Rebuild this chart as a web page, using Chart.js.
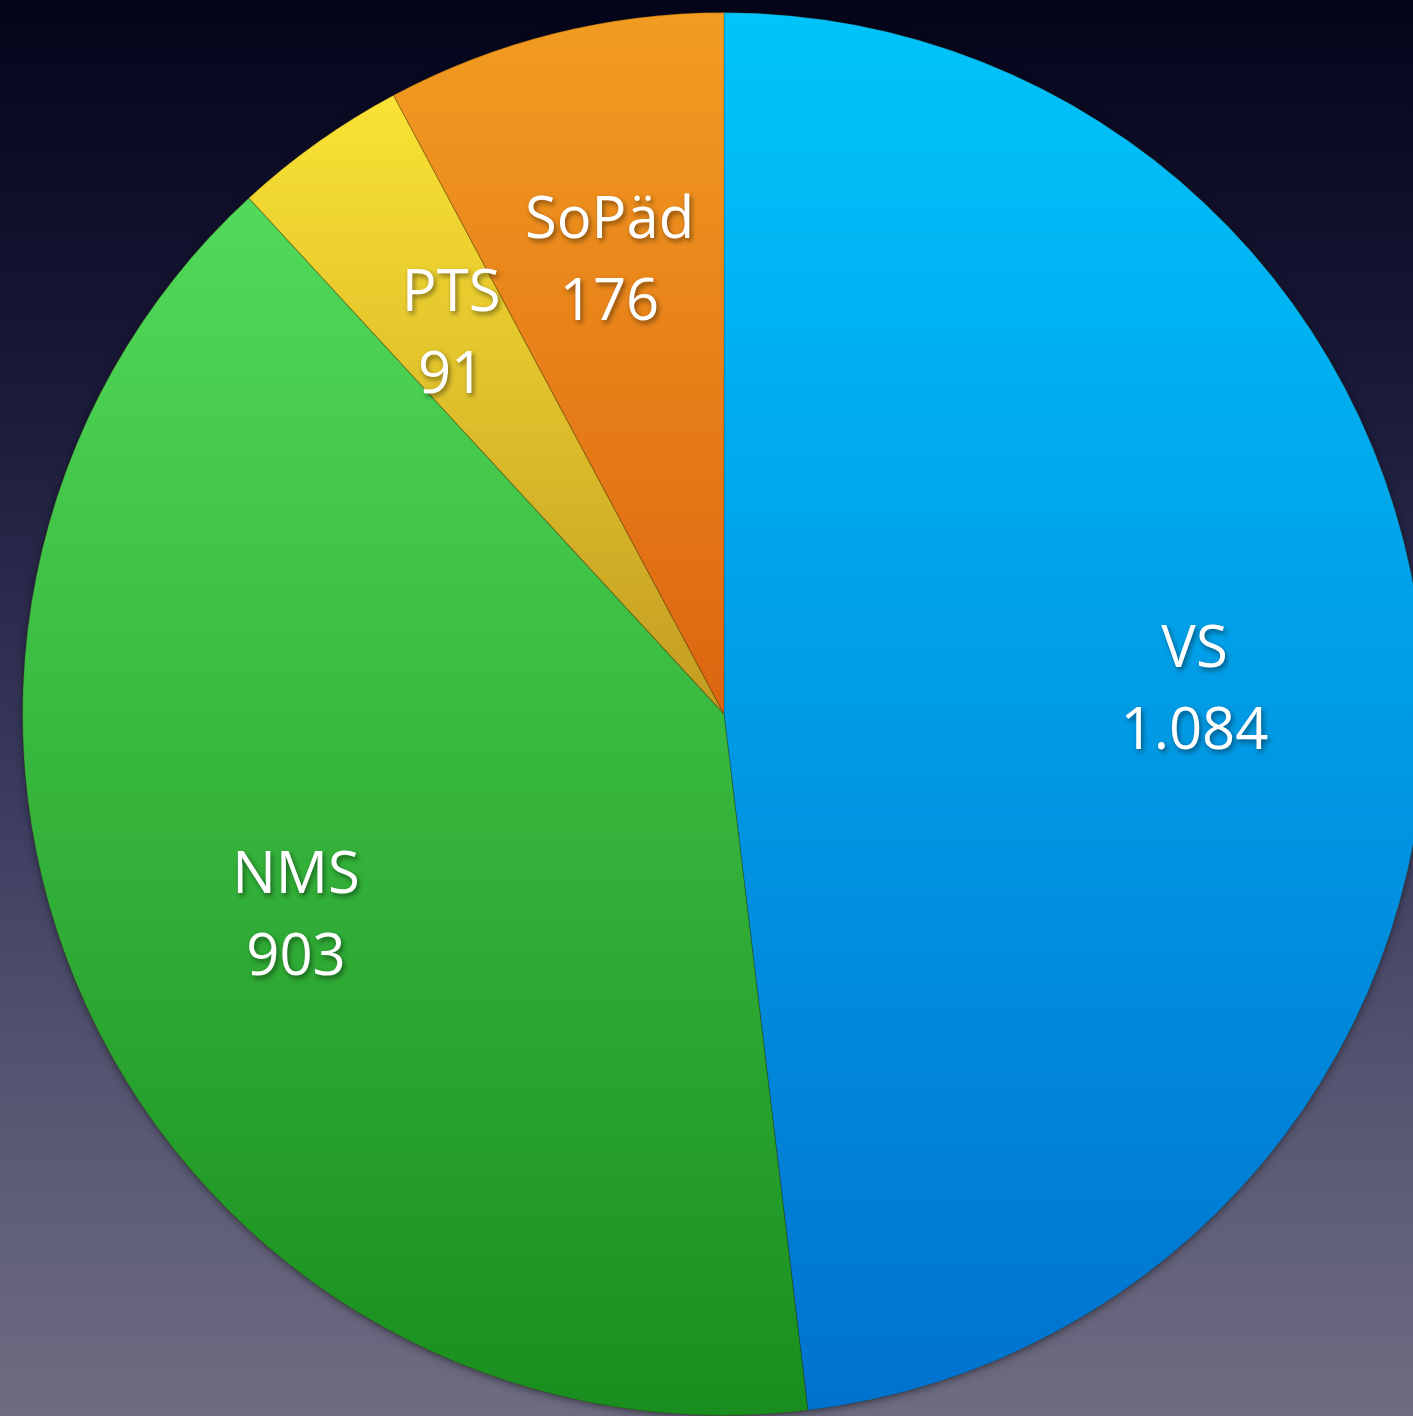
<!DOCTYPE html>
<html>
<head>
<meta charset="utf-8">
<script src="https://cdn.jsdelivr.net/npm/chart.js@4/dist/chart.umd.min.js"></script>
<style>
  html, body { margin: 0; padding: 0; width: 1413px; height: 1416px; overflow: hidden; }
  body { background: linear-gradient(to bottom, #04041a 0%, #1c1c3c 30%, #3a3a5e 55%, #5a5974 80%, #6e6c82 100%); }
  #wrap { position: absolute; left: 0; top: 0; width: 1448px; height: 1428px; }
</style>
</head>
<body>
<div id="wrap"><canvas id="c" width="1448" height="1428"></canvas></div>
<script>
const categories = ['VS', 'NMS', 'PTS', 'SoPäd'];
const values = [1084, 903, 91, 176];
const valueLabels = ['1.084', '903', '91', '176'];
const gradTop = ['#00c4fb', '#52da5a', '#fae334', '#f29c22'];
const gradBottom = ['#0072cf', '#198e1e', '#c39c22', '#dd6510'];

function sliceBox(chart, i) {
  const a = chart.chartArea;
  const cx = (a.left + a.right) / 2, cy = (a.top + a.bottom) / 2;
  const r = Math.min(a.right - a.left, a.bottom - a.top) / 2;
  const total = values.reduce((s, v) => s + v, 0);
  let start = -Math.PI / 2;
  for (let k = 0; k < i; k++) start += values[k] / total * Math.PI * 2;
  const end = start + values[i] / total * Math.PI * 2;
  const ys = [cy, cy + Math.sin(start) * r, cy + Math.sin(end) * r];
  for (let ang = -Math.PI * 2; ang <= Math.PI * 4; ang += Math.PI / 2) {
    if (ang > start && ang < end) ys.push(cy + Math.sin(ang) * r);
  }
  return { top: Math.min(...ys), bottom: Math.max(...ys) };
}

const bgPlugin = {
  id: 'pieShadow',
  beforeDatasetsDraw(chart) {
    const el = chart.getDatasetMeta(0).data[0];
    if (!el) return;
    const ctx = chart.ctx;
    ctx.save();
    ctx.shadowColor = 'rgba(0,0,0,0.55)';
    ctx.shadowBlur = 10;
    ctx.shadowOffsetX = 0;
    ctx.shadowOffsetY = 2;
    ctx.fillStyle = '#000';
    ctx.beginPath();
    ctx.arc(el.x, el.y, el.outerRadius - 1, 0, Math.PI * 2);
    ctx.fill();
    ctx.restore();
  }
};

const labelPlugin = {
  id: 'sliceLabels',
  afterDatasetsDraw(chart) {
    const ctx = chart.ctx;
    const meta = chart.getDatasetMeta(0);
    ctx.save();
    ctx.font = '58px "Open Sans", sans-serif';
    ctx.textAlign = 'center';
    ctx.textBaseline = 'middle';
    ctx.fillStyle = '#ffffff';
    ctx.shadowColor = 'rgba(0,0,0,0.45)';
    ctx.shadowBlur = 5;
    ctx.shadowOffsetX = 2;
    ctx.shadowOffsetY = 3;
    meta.data.forEach((el, i) => {
      const mid = (el.startAngle + el.endAngle) / 2;
      const d = el.outerRadius * 0.672;
      const x = el.x + Math.cos(mid) * d;
      const y = el.y + Math.sin(mid) * d;
      ctx.fillText(categories[i], x, y - 35);
      ctx.fillText(valueLabels[i], x, y + 47);
    });
    ctx.restore();
  }
};

new Chart(document.getElementById('c'), {
  type: 'pie',
  data: {
    labels: categories,
    datasets: [{
      data: values,
      backgroundColor(context) {
        const chart = context.chart;
        const i = context.dataIndex;
        if (!chart.chartArea || i === undefined) return gradTop[i || 0];
        const b = sliceBox(chart, i);
        const g = chart.ctx.createLinearGradient(0, b.top, 0, b.bottom);
        g.addColorStop(0, gradTop[i]);
        g.addColorStop(1, gradBottom[i]);
        return g;
      },
      borderColor: 'rgba(60,40,0,0.22)',
      borderWidth: 1.2
    }]
  },
  options: {
    responsive: false,
    animation: false,
    layout: { padding: 12 },
    plugins: {
      legend: { display: false },
      tooltip: { enabled: false }
    }
  },
  plugins: [bgPlugin, labelPlugin]
});
</script>
</body>
</html>
